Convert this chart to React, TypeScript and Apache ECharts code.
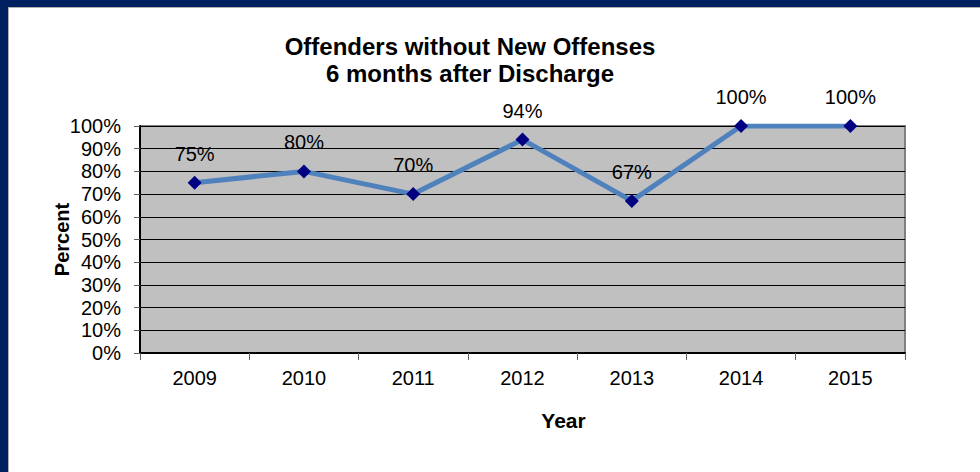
import React, { useEffect, useRef } from "react";
import * as echarts from "echarts";

const years = ["2009", "2010", "2011", "2012", "2013", "2014", "2015"];
const percentWithoutNewOffense = [75, 80, 70, 94, 67, 100, 100];
const titleLines = ["Offenders without New Offenses", "6 months after Discharge"];

const FONT = "'Liberation Sans', Arial, sans-serif";

export default function App() {
  const ref = useRef<HTMLDivElement>(null);
  useEffect(() => {
    document.body.style.margin = "0";
    const chart = echarts.init(ref.current!, null, { renderer: "svg" });
    chart.setOption({
      animation: false,
      backgroundColor: "#ffffff",
      textStyle: { fontFamily: FONT },
      title: {
        text: titleLines.join("\n"),
        left: 470,
        top: 33,
        padding: 0,
        textAlign: "center",
        textStyle: {
          fontFamily: FONT,
          fontSize: 24,
          fontWeight: "bold",
          color: "#000",
          lineHeight: 27,
        },
      },
      graphic: [
        { type: "rect", shape: { x: 0, y: 0, width: 980, height: 7 }, style: { fill: "#002060" }, z: 100 },
        { type: "rect", shape: { x: 0, y: 0, width: 8, height: 472 }, style: { fill: "#002060" }, z: 100 },
        { type: "rect", shape: { x: 8, y: 7, width: 1, height: 465 }, style: { fill: "#b0b0b0" }, z: 100 },
        { type: "rect", shape: { x: 8, y: 7, width: 972, height: 1 }, style: { fill: "#b0b0b0" }, z: 100 },
      ],
      grid: {
        left: 140,
        right: 75,
        top: 126,
        bottom: 119,
        show: true,
        backgroundColor: "#C0C0C0",
        borderColor: "#808080",
        borderWidth: 2,
      },
      xAxis: {
        type: "category",
        data: years,
        boundaryGap: true,
        name: "Year",
        nameLocation: "middle",
        nameGap: 57,
        nameMoveOverlap: false,
        nameTextStyle: {
          fontFamily: FONT,
          fontSize: 21,
          fontWeight: "bold",
          color: "#000",
          padding: [0, 0, 0, 82],
        },
        axisLine: { show: true, lineStyle: { color: "#000", width: 2 } },
        axisTick: { show: true, length: 7, lineStyle: { color: "#606060" } },
        axisLabel: { fontFamily: FONT, fontSize: 20, color: "#000", margin: 15 },
        splitLine: { show: false },
      },
      yAxis: {
        type: "value",
        min: 0,
        max: 100,
        interval: 10,
        name: "Percent",
        nameLocation: "middle",
        nameRotate: 90,
        nameGap: 68,
        nameMoveOverlap: false,
        nameTextStyle: { fontFamily: FONT, fontSize: 20, fontWeight: "bold", color: "#000" },
        axisLine: { show: true, lineStyle: { color: "#000", width: 2 } },
        axisTick: { show: true, length: 6, lineStyle: { color: "#606060" } },
        axisLabel: { fontFamily: FONT, fontSize: 20, color: "#000", margin: 19, formatter: "{value}%" },
        splitLine: { show: true, lineStyle: { color: "#000", width: 1 } },
      },
      series: [
        {
          type: "line",
          data: percentWithoutNewOffense,
          symbol: "diamond",
          symbolSize: 14,
          itemStyle: { color: "#000080" },
          lineStyle: { color: "#4F81BD", width: 5 },
          label: {
            show: true,
            position: "top",
            distance: 12,
            formatter: "{c}%",
            fontFamily: FONT,
            fontSize: 20,
            color: "#000",
          },
          z: 5,
        },
      ],
    });
    return () => chart.dispose();
  }, []);
  return <div ref={ref} style={{ width: 980, height: 472 }} />;
}
